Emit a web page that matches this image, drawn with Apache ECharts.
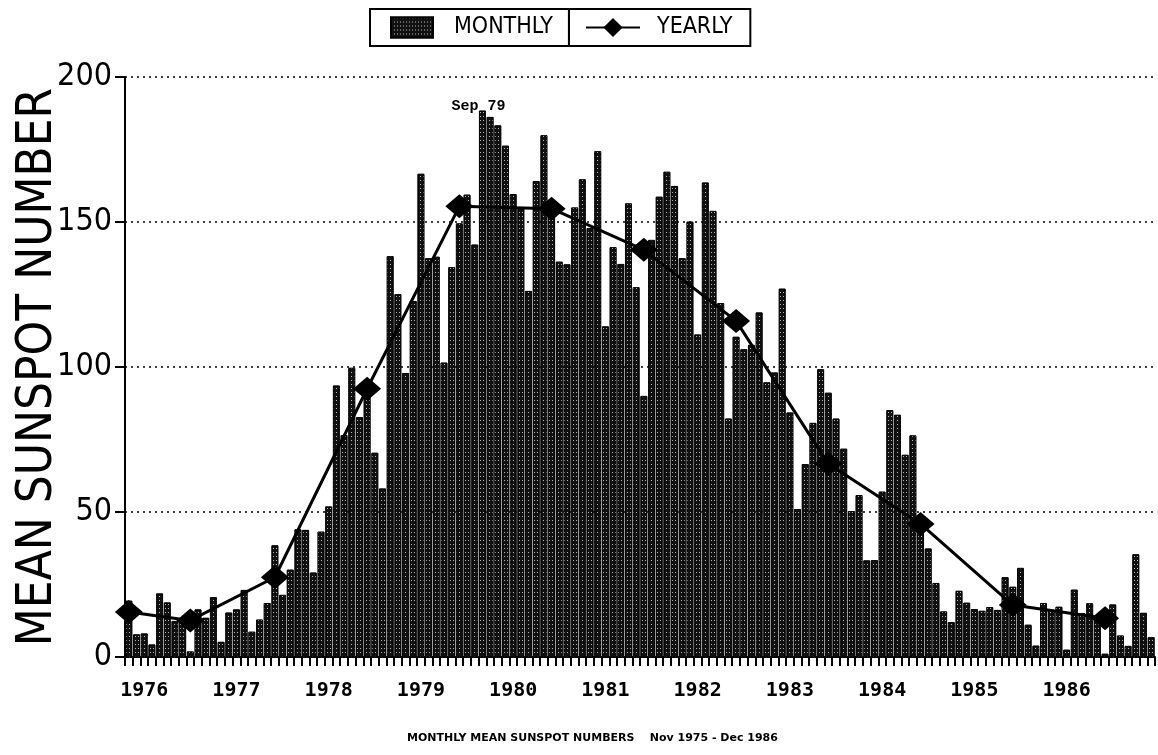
<!DOCTYPE html>
<html>
<head>
<meta charset="utf-8">
<script src="https://cdn.jsdelivr.net/npm/echarts@6/dist/echarts.min.js"></script>
<style>
html,body{margin:0;padding:0;background:#fff;}
#chart{width:1158px;height:755px;}
</style>
</head>
<body>
<div id="chart"></div>
<script>
// Monthly mean sunspot numbers, Nov 1975 - Dec 1986
const m1975 = [19.4, 7.8];
const m1976 = [8.1, 4.3, 21.9, 18.8, 12.4, 12.2, 1.9, 16.4, 13.5, 20.6, 5.2, 15.3];
const m1977 = [16.4, 23.1, 8.7, 12.9, 18.6, 38.5, 21.4, 30.1, 44.0, 43.8, 29.1, 43.2];
const m1978 = [51.9, 93.6, 76.5, 99.7, 82.7, 95.1, 70.4, 58.1, 138.2, 125.1, 97.9, 122.7];
const m1979 = [166.6, 137.5, 138.0, 101.5, 134.4, 149.5, 159.4, 142.2, 188.4, 186.2, 183.3, 176.3];
const m1980 = [159.6, 155.0, 126.2, 164.1, 179.9, 157.3, 136.3, 135.4, 155.0, 164.7, 147.9, 174.4];
const m1981 = [114.0, 141.3, 135.5, 156.4, 127.5, 90.0, 143.8, 158.7, 167.3, 162.4, 137.5, 150.1];
const m1982 = [111.2, 163.6, 153.8, 122.0, 82.2, 110.4, 106.1, 107.6, 118.8, 94.7, 98.1, 127.0];
const m1983 = [84.3, 51.0, 66.5, 80.7, 99.2, 91.1, 82.2, 71.8, 50.3, 55.8, 33.3, 33.4];
const m1984 = [57.0, 85.1, 83.5, 69.7, 76.4, 46.1, 37.4, 25.5, 15.7, 12.0, 22.8, 18.7];
const m1985 = [16.5, 15.9, 17.2, 16.2, 27.5, 24.2, 30.7, 11.1, 3.9, 18.6, 16.2, 17.3];
const m1986 = [2.5, 23.2, 15.1, 18.5, 13.7, 1.1, 18.1, 7.4, 3.8, 35.4, 15.2, 6.8];

const monthNames = ['Jan','Feb','Mar','Apr','May','Jun','Jul','Aug','Sep','Oct','Nov','Dec'];
const yearList = [1975,1976,1977,1978,1979,1980,1981,1982,1983,1984,1985,1986];

// Yearly means and the month at which each is plotted
const yearlyValues = [15.5, 12.6, 27.5, 92.5, 155.4, 154.6, 140.4, 115.9, 66.6, 45.9, 17.9, 13.4];
const yearlyAt = ['Nov 75','Jul 76','Jun 77','Jun 78','Jun 79','Jun 80','Jun 81','Jun 82','Jun 83','Jun 84','Jun 85','Jun 86'];

const yTicks = [0, 50, 100, 150, 200];
const peakLabel = 'Sep 79';

// categories
const categories = [];
yearList.forEach(y => {
  monthNames.forEach((m, i) => {
    if (y === 1975 && i < 10) return;
    categories.push(m + ' ' + String(y).slice(2));
  });
});
const monthly = [].concat(m1975, m1976, m1977, m1978, m1979, m1980, m1981, m1982, m1983, m1984, m1985, m1986);
const yearlyData = yearlyAt.map((c, i) => [c, yearlyValues[i]]);
const peakValue = monthly[categories.indexOf(peakLabel)];

const condensed = '"DejaVu Sans Condensed","DejaVu Sans",sans-serif';

const chart = echarts.init(document.getElementById('chart'));
chart.setOption({
  animation: false,
  backgroundColor: '#fff',
  title: {
    text: 'MONTHLY MEAN SUNSPOT NUMBERS    Nov 1975 - Dec 1986',
    left: 402, bottom: 6,
    textStyle: {fontFamily: '"DejaVu Sans",sans-serif', fontWeight: 'bold', fontSize: 11, color: '#000'}
  },
  legend: [{
    data: ['MONTHLY'],
    icon: 'rect',
    left: 370, top: 9,
    itemWidth: 42, itemHeight: 20, itemGap: 10,
    padding: [7, 16, 7, 20],
    borderColor: '#000', borderWidth: 2,
    textStyle: {fontFamily: condensed, fontSize: 23, color: '#000', padding: [0,0,0,16]}
  }, {
    data: ['YEARLY'],
    left: 569, top: 9,
    itemWidth: 54, itemHeight: 24,
    padding: [7, 18, 7, 16],
    borderColor: '#000', borderWidth: 2,
    textStyle: {fontFamily: condensed, fontSize: 23, color: '#000', padding: [0,0,0,12]}
  }],
  grid: {left: 125, right: 3, top: 77, bottom: 98, outerBoundsMode: 'none', containLabel: false},
  xAxis: {
    type: 'category',
    data: categories,
    axisLine: {show: true, lineStyle: {color: '#000', width: 2}},
    axisTick: {show: true, interval: 0, length: 9, lineStyle: {color: '#000', width: 2}},
    axisLabel: {
      interval: (i, v) => v.indexOf('Jan') === 0,
      formatter: v => '19' + v.slice(4),
      margin: 24,
      fontFamily: '"DejaVu Sans Mono",monospace', fontWeight: 'bold', fontSize: 20, color: '#000'
    },
    splitLine: {show: false}
  },
  yAxis: {
    type: 'value',
    min: 0, max: 200, interval: 50,
    name: 'MEAN SUNSPOT NUMBER',
    nameLocation: 'middle',
    nameRotate: 90,
    nameGap: 62,
    nameMoveOverlap: false,
    nameTextStyle: {fontFamily: condensed, fontSize: 49, color: '#000'},
    axisLine: {show: true, lineStyle: {color: '#000', width: 2}},
    axisTick: {show: true, length: 10, lineStyle: {color: '#000', width: 2}},
    axisLabel: {
      margin: 13, fontFamily: condensed, fontSize: 32, color: '#000',
      formatter: v => yTicks.indexOf(v) >= 0 ? String(v) : ''
    },
    splitLine: {show: true, lineStyle: {color: '#000', width: 1.5, type: [2, 4]}}
  },
  series: [{
    name: 'MONTHLY',
    type: 'bar',
    data: monthly,
    barCategoryGap: '12%',
    itemStyle: {
      color: '#111',
      borderColor: '#000', borderWidth: 0.8,
      decal: {symbol: 'rect', symbolSize: 1, dashArrayX: [1, 2], dashArrayY: [1, 3], color: 'rgba(255,255,255,0.7)'}
    },
    markPoint: {
      symbol: 'circle', symbolSize: 1,
      itemStyle: {color: 'rgba(0,0,0,0)'},
      label: {show: true, position: 'top', distance: 4, offset: [-4, 8], formatter: peakLabel,
        fontFamily: '"Liberation Mono","DejaVu Sans Mono",monospace', fontWeight: 'bold', fontSize: 15, color: '#000'},
      data: [{coord: [peakLabel, peakValue]}]
    },
    z: 2
  }, {
    name: 'YEARLY',
    type: 'line',
    data: yearlyData,
    symbol: 'diamond',
    symbolSize: [28, 24],
    showAllSymbol: true,
    lineStyle: {color: '#000', width: 3},
    itemStyle: {color: '#000'},
    z: 5
  }]
});
</script>
</body>
</html>
